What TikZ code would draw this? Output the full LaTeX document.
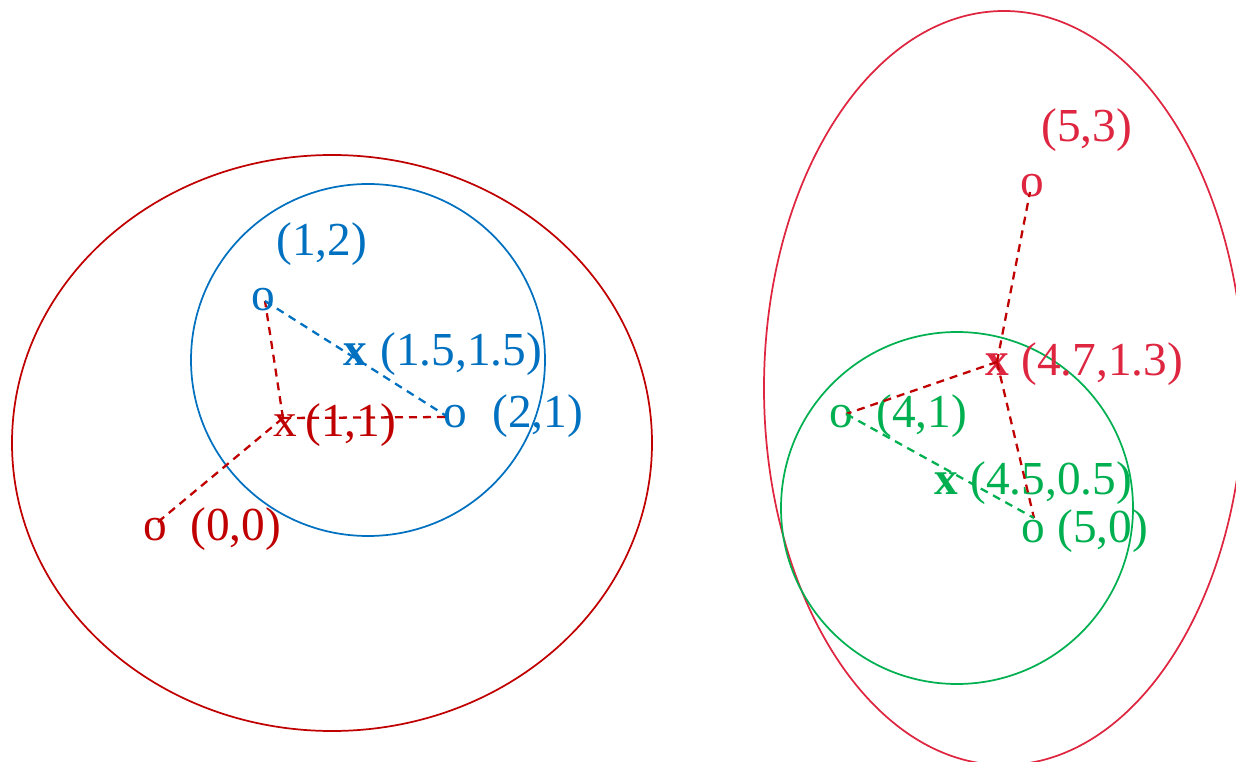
\documentclass[tikz,border=0pt]{standalone}
\usepackage{fontspec}
\setmainfont{Liberation Serif}
\definecolor{dred}{RGB}{192,0,0}
\definecolor{mblue}{RGB}{0,112,192}
\definecolor{crim}{RGB}{222,38,64}
\definecolor{mgreen}{RGB}{0,176,80}
\begin{document}
\begin{tikzpicture}[x=0.75pt,y=-0.75pt,
  lbl/.style={inner sep=0pt,anchor=base west,font=\fontsize{35.5}{40}\selectfont},
  ring/.style={line width=1.3pt},
  dsh/.style={line width=1.7pt,dash pattern=on 6pt off 4.5pt}]
\clip (0,0) rectangle (1236,762);
% outlines
\draw[ring,dred] (332,443) ellipse [x radius=320,y radius=288];
\draw[ring,mblue] (368,360) ellipse [x radius=177,y radius=176];
\draw[ring,crim] (1004,388) ellipse [x radius=240,y radius=377];
\draw[ring,mgreen] (957,508) ellipse [x radius=176,y radius=176];
% data points
\coordinate (A) at (158,522);
\coordinate (B) at (283,418);
\coordinate (C) at (265,301);
\coordinate (D) at (448,417);
\coordinate (E) at (1030,192);
\coordinate (F) at (997,362);
\coordinate (G) at (846,414);
\coordinate (H) at (1034,518);
% left labels
\node[lbl,dred] (oA) at (143,541) {o};
\node[lbl,dred] (tA) at (190,541) {(0,0)};
\node[lbl,dred] (xB) at (273,437) {x};
\node[lbl,dred] (tB) at (305,437) {(1,1)};
\node[lbl,mblue] (oC) at (251,311) {o};
\node[lbl,mblue] (tC) at (276,256) {(1,2)};
\node[lbl,mblue,font=\fontsize{35.5}{40}\selectfont\bfseries] (xM) at (343,366) {x};
\node[lbl,mblue] (tM) at (380,366) {(1.5,1.5)};
\node[lbl,mblue] (oD) at (443,428) {o};
\node[lbl,mblue] (tD) at (492,428) {(2,1)};
% right labels
\node[lbl,crim] (oE) at (1020,197) {o};
\node[lbl,crim] (tE) at (1041,142) {(5,3)};
\node[lbl,crim,font=\fontsize{35.5}{40}\selectfont\bfseries] (xF) at (985,376) {x};
\node[lbl,crim] (tF) at (1021,376) {(4.7,1.3)};
\node[lbl,mgreen] (oG) at (829,428) {o};
\node[lbl,mgreen] (tG) at (876,428) {(4,1)};
\node[lbl,mgreen,font=\fontsize{35.5}{40}\selectfont\bfseries] (xN) at (934,495) {x};
\node[lbl,mgreen] (tN) at (970,495) {(4.5,0.5)};
\node[lbl,mgreen] (oH) at (1021,543) {o};
\node[lbl,mgreen] (tH) at (1057,543) {(5,0)};
% connectors
\draw[dsh,dred] (A) -- (B);
\draw[dsh,dred] (B) -- (C);
\draw[dsh,dred] (B) -- (D);
\draw[dsh,mblue] (C) -- (D);
\draw[dsh,dred] (F) -- (E);
\draw[dsh,dred] (F) -- (G);
\draw[dsh,dred] (F) -- (H);
\draw[dsh,mgreen] (G) -- (H);
\end{tikzpicture}
\end{document}
